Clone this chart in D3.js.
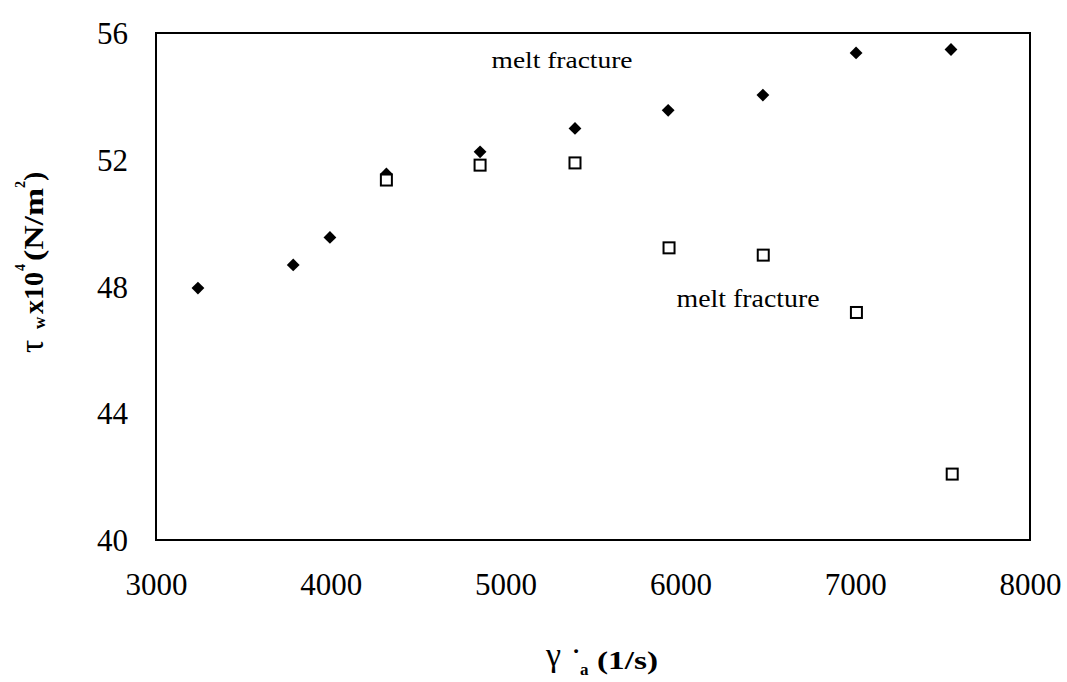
<!DOCTYPE html>
<html><head><meta charset="utf-8">
<script src="https://cdn.jsdelivr.net/npm/d3@7"></script>
<style>body{margin:0;background:#fff}svg{display:block}</style>
</head><body>
<svg id="c" width="1067" height="682"></svg>
<script>
const xTicks = [3000, 4000, 5000, 6000, 7000, 8000];
const yTicks = [40, 44, 48, 52, 56];
const filledX = [3240, 3785, 3995, 4318, 4854, 5397, 5930, 6472, 7005, 7548];
const filledY = [47.95, 48.68, 49.55, 51.55, 52.25, 52.99, 53.56, 54.04, 55.37, 55.48];
const openX = [4318, 4854, 5397, 5935, 6474, 7007, 7555];
const openY = [51.36, 51.83, 51.9, 49.22, 48.99, 47.18, 42.08];
const notes = [{text: "melt fracture", x: 5323, y: 54.9, size: 24, len: 141},
               {text: "melt fracture", x: 6387, y: 47.35, size: 25, len: 143}];

const svg = d3.select("#c");
const L = 156, R = 1030, T = 33, B = 540;
const x = d3.scaleLinear().domain([3000, 8000]).range([L, R]);
const y = d3.scaleLinear().domain([40, 56]).range([B, T]);
const serif = "Liberation Serif, Times New Roman, serif";

// axes
const xa = svg.append("g").attr("transform", `translate(0,${B})`)
  .call(d3.axisBottom(x).tickValues(xTicks).tickSize(0).tickPadding(34).tickFormat(d3.format("d")));
const ya = svg.append("g").attr("transform", `translate(${L},0)`)
  .call(d3.axisLeft(y).tickValues(yTicks).tickSize(0).tickPadding(28).tickFormat(d3.format("d")));
[xa, ya].forEach(a => {
  a.attr("font-family", serif);
  a.select(".domain").remove();
  a.selectAll("text").style("font-family", serif).attr("font-size", 31).attr("fill", "#000");
});
xa.selectAll("text").attr("dy", null).attr("y", 55);
ya.selectAll("text").attr("dy", "0.34em");

// frame
svg.append("rect").attr("x", L).attr("y", T).attr("width", R - L).attr("height", B - T)
  .attr("fill", "none").attr("stroke", "#000").attr("stroke-width", 2);

// filled diamonds
const diamond = d3.symbol().type(d3.symbolSquare).size(82)();
svg.append("g").selectAll("path").data(filledX.map((v, i) => [v, filledY[i]])).join("path")
  .attr("d", diamond)
  .attr("transform", d => `translate(${x(d[0])},${y(d[1])}) rotate(45)`)
  .attr("fill", "#000");

// open squares
svg.append("g").selectAll("rect").data(openX.map((v, i) => [v, openY[i]])).join("rect")
  .attr("x", d => x(d[0]) - 5.5).attr("y", d => y(d[1]) - 5.5)
  .attr("width", 11).attr("height", 11)
  .attr("fill", "#fff").attr("stroke", "#000").attr("stroke-width", 2);

// annotations
svg.append("g").selectAll("text").data(notes).join("text")
  .attr("x", d => x(d.x)).attr("y", d => y(d.y))
  .attr("text-anchor", "middle")
  .style("font-family", serif).attr("font-size", d => d.size)
  .attr("textLength", d => d.len).attr("lengthAdjust", "spacingAndGlyphs")
  .text(d => d.text);

// x label (pieces)
const xlab = svg.append("g").style("font-family", serif).attr("fill", "#000");
xlab.append("text").attr("x", 546).attr("y", 666).attr("font-size", 34).text("γ");
xlab.append("text").attr("x", 576).attr("y", 667).attr("text-anchor", "middle").attr("font-size", 26).attr("font-weight", "bold").text("˙");
xlab.append("text").attr("x", 580).attr("y", 675).attr("font-size", 17).attr("font-weight", "bold").text("a");
xlab.append("text").attr("x", 597).attr("y", 669).attr("font-size", 26).attr("font-weight", "bold")
  .attr("textLength", 61).attr("lengthAdjust", "spacingAndGlyphs").text("(1/s)");

// y label (pieces, rotated)
const ylab = svg.append("g").attr("transform", "translate(43,0) rotate(-90)")
  .style("font-family", serif).attr("fill", "#000").attr("font-weight", "bold");
ylab.append("text").attr("x", -353).attr("y", 0).attr("font-weight", "normal").attr("font-size", 33).text("τ");
ylab.append("text").attr("x", -329).attr("y", 2).attr("font-size", 17).text("w");
ylab.append("text").attr("x", -314).attr("y", 0).attr("font-size", 28).attr("textLength", 42).attr("lengthAdjust", "spacingAndGlyphs").text("x10");
ylab.append("text").attr("x", -271).attr("y", -18).attr("font-size", 14).text("4");
ylab.append("text").attr("x", -261).attr("y", 0).attr("font-size", 28).attr("textLength", 73).attr("lengthAdjust", "spacingAndGlyphs").text("(N/m");
ylab.append("text").attr("x", -188).attr("y", -18).attr("font-size", 14).text("2");
ylab.append("text").attr("x", -181).attr("y", 0).attr("font-size", 28).text(")");
</script>
</body></html>
